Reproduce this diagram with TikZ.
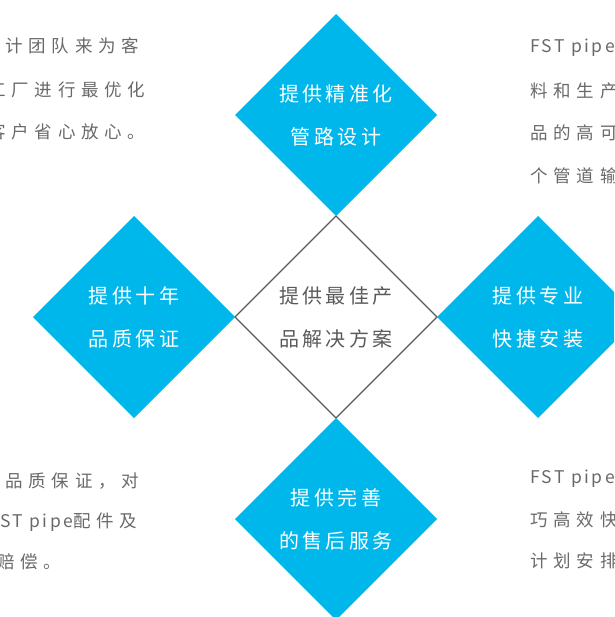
\documentclass[tikz,border=0pt]{standalone}
\usepackage{fontspec}
\usetikzlibrary{shapes.geometric, positioning}
\newfontfamily\cjkfont[LetterSpace=17]{Noto Sans CJK SC}
\newfontfamily\notefont[LetterSpace=33]{Noto Sans CJK SC}
\newfontfamily\latinfont[LetterSpace=14]{Noto Sans CJK SC}
\definecolor{skyblue}{RGB}{0,183,235}
\definecolor{notegray}{RGB}{105,105,105}
\definecolor{coregray}{RGB}{90,90,90}

\begin{document}
\begin{tikzpicture}[x=1pt,y=-1pt]
\tikzset{
  base diamond/.style={diamond, minimum width=202pt, minimum height=202pt,
    inner sep=0pt, outer sep=0pt, align=center,
    font=\cjkfont\fontsize{20}{43}\selectfont},
  core diamond/.style={base diamond, draw=coregray, line width=1.2pt, text=coregray},
  blue diamond/.style={base diamond, fill=skyblue, text=white},
  side note/.style={anchor=base west, inner sep=0pt, text=notegray,
    font=\notefont\fontsize{17.5}{17.5}\selectfont}
}
\useasboundingbox (0,0) rectangle (614,617);
\clip (0,0) rectangle (614,617);

% centre and the four blue corners
\node[core diamond] (core) at (336,317) {提供最佳产\\品解决方案};
\node[blue diamond, above=0pt of core] (plan) {提供精准化\\管路设计};
\node[blue diamond, left=0pt of core] (warranty) {提供十年\\品质保证};
\node[blue diamond, right=0pt of core] (install) {提供专业\\快捷安装};
\node[blue diamond, below=0pt of core] (service) {提供完善\\的售后服务};

% cut-off side texts
\node[side note] (tl1) at (5,53) {计团队来为客};
\node[side note] (tl2) at (-12,97) {工厂进行最优化};
\node[side note] (tl3) at (-12,139) {客户省心放心。};

\node[side note] (tr1) at (530,53) {{\latinfont FST pipe}};
\node[side note] (tr2) at (530,98) {料和生产};
\node[side note] (tr3) at (530,140) {品的高可};
\node[side note] (tr4) at (530,183) {个管道输};

\node[side note] (bl1) at (5,487) {品质保证，对};
\node[side note] (bl2) at (0,527) {{\latinfont ST pipe}配件及};
\node[side note] (bl3) at (-3,568) {赔偿。};

\node[side note] (br1) at (530,483) {{\latinfont FST pipe}};
\node[side note] (br2) at (530,526) {巧高效快};
\node[side note] (br3) at (530,567) {计划安排};

\end{tikzpicture}
\end{document}
